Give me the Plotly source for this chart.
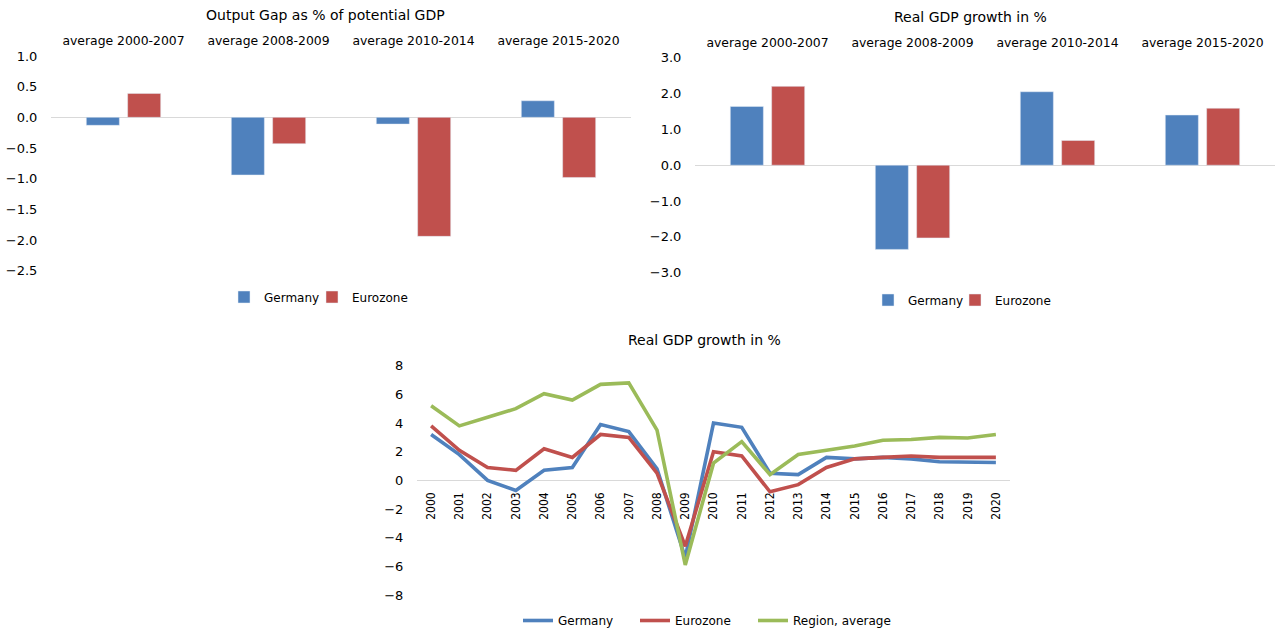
import plotly.graph_objects as go

# ---------------- data ----------------
periods = ["average 2000-2007", "average 2008-2009", "average 2010-2014", "average 2015-2020"]
gap_germany = [-0.13, -0.94, -0.11, 0.27]
gap_eurozone = [0.39, -0.43, -1.94, -0.98]

avg_growth_germany = [1.64, -2.35, 2.05, 1.40]
avg_growth_eurozone = [2.20, -2.03, 0.69, 1.59]

years = ["2000", "2001", "2002", "2003", "2004", "2005", "2006", "2007", "2008", "2009", "2010",
         "2011", "2012", "2013", "2014", "2015", "2016", "2017", "2018", "2019", "2020"]
growth_germany = [3.2, 1.8, 0.0, -0.7, 0.7, 0.9, 3.9, 3.4, 0.8, -5.4, 4.0,
                  3.7, 0.5, 0.4, 1.6, 1.5, 1.6, 1.5, 1.3, 1.3, 1.25]
growth_eurozone = [3.8, 2.1, 0.9, 0.7, 2.2, 1.6, 3.2, 3.0, 0.5, -4.6, 2.0,
                   1.7, -0.8, -0.3, 0.9, 1.5, 1.6, 1.7, 1.6, 1.6, 1.6]
growth_region = [5.2, 3.8, 4.4, 5.0, 6.05, 5.6, 6.7, 6.8, 3.5, -5.9, 1.2,
                 2.7, 0.4, 1.8, 2.1, 2.4, 2.8, 2.85, 3.0, 2.95, 3.2]

# ---------------- style ----------------
BLUE, RED, GREEN = "#4F81BD", "#C0504D", "#9BBB59"
FONT = "DejaVu Sans"
NARROW = "Liberation Sans Narrow, DejaVu Sans Condensed, DejaVu Sans"
TXT = "#000000"
ZERO = "#D9D9D9"
W, H = 1276, 629


def px_x(x):
    return x / W


def px_y(y):
    return 1 - y / H


fig = go.Figure()

# top-left: output gap
fig.add_trace(go.Bar(x=periods, y=gap_germany, name="Germany", marker_color=BLUE,
                     xaxis="x", yaxis="y", legend="legend"))
fig.add_trace(go.Bar(x=periods, y=gap_eurozone, name="Eurozone", marker_color=RED,
                     xaxis="x", yaxis="y", legend="legend2"))

# top-right: average growth
fig.add_trace(go.Bar(x=periods, y=avg_growth_germany, name="Germany", marker_color=BLUE,
                     xaxis="x2", yaxis="y2", legend="legend3"))
fig.add_trace(go.Bar(x=periods, y=avg_growth_eurozone, name="Eurozone", marker_color=RED,
                     xaxis="x2", yaxis="y2", legend="legend4"))

# bottom: annual growth lines
for name, vals, col, leg in [("Germany", growth_germany, BLUE, "legend5"),
                             ("Eurozone", growth_eurozone, RED, "legend6"),
                             ("Region, average", growth_region, GREEN, "legend7")]:
    fig.add_trace(go.Scatter(x=years, y=vals, name=name, mode="lines",
                             line=dict(color=col, width=3.6),
                             xaxis="x3", yaxis="y3", legend=leg))

ytickfont = dict(family=FONT, size=13, color=TXT)
cattickfont = dict(family=FONT, size=12.4, color=TXT)
legfont = dict(family=FONT, size=12, color=TXT)

common_cat = dict(type="category", showgrid=False, zeroline=False, showline=False,
                  ticks="outside", tickcolor="rgba(0,0,0,0)", ticklen=5,
                  tickfont=cattickfont, fixedrange=True, automargin=False)
common_y = dict(showgrid=False, showline=False, zeroline=True, zerolinecolor=ZERO,
                zerolinewidth=1, ticks="outside", tickcolor="rgba(0,0,0,0)", ticklen=10,
                tickfont=ytickfont, fixedrange=True, automargin=False)


def leg(left_px, y_px):
    return dict(orientation="h", x=px_x(left_px), xanchor="left", y=px_y(y_px),
                yanchor="middle", font=legfont, bgcolor="rgba(0,0,0,0)", itemwidth=30)


fig.update_layout(
    width=W, height=H,
    margin=dict(l=0, r=0, t=0, b=0, autoexpand=False),
    paper_bgcolor="white", plot_bgcolor="white",
    font=dict(family=FONT, size=12, color=TXT),
    barmode="group", bargap=0.43, bargroupgap=0.2,
    showlegend=True,
    xaxis=dict(common_cat, domain=[px_x(51), px_x(631)], anchor="y", side="top"),
    yaxis=dict(common_y, domain=[px_y(270.7), px_y(56)], anchor="x",
               range=[-2.5, 1.0], dtick=0.5, tickformat=".1f"),
    xaxis2=dict(common_cat, domain=[px_x(695), px_x(1275)], anchor="y2", side="top"),
    yaxis2=dict(common_y, domain=[px_y(272.7), px_y(57.7)], anchor="x2",
                range=[-3, 3], dtick=1, tickformat=".1f"),
    xaxis3=dict(type="category", showgrid=False, zeroline=False, showline=False,
                ticks="outside", tickcolor="rgba(0,0,0,0)", ticklen=7,
                tickangle=-90, tickfont=dict(family=NARROW, size=12, color=TXT),
                domain=[px_x(417), px_x(1010)], anchor="free", position=px_y(479.5),
                range=[-0.5, 20.5], fixedrange=True, automargin=False),
    yaxis3=dict(common_y, domain=[px_y(595), px_y(365.7)], anchor="x3",
                range=[-8, 8], dtick=2),
    legend=leg(224, 297),
    legend2=leg(312, 297),
    legend3=leg(868, 300),
    legend4=leg(955, 300),
    legend5=leg(518, 620.5),
    legend6=leg(635, 620.5),
    legend7=leg(753, 620.5),
    annotations=[
        dict(text="Output Gap as % of potential GDP", x=px_x(325), y=px_y(15),
             xref="paper", yref="paper", showarrow=False, xanchor="center", yanchor="middle",
             font=dict(family=FONT, size=14, color=TXT)),
        dict(text="Real GDP growth in %", x=px_x(970), y=px_y(17), xref="paper", yref="paper",
             showarrow=False, xanchor="center", yanchor="middle",
             font=dict(family=FONT, size=14, color=TXT)),
        dict(text="Real GDP growth in %", x=px_x(704), y=px_y(340), xref="paper", yref="paper",
             showarrow=False, xanchor="center", yanchor="middle",
             font=dict(family=FONT, size=14, color=TXT)),
    ],
)

fig.write_html("out.html")
